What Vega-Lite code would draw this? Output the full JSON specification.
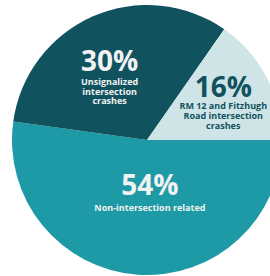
{
  "$schema": "https://vega.github.io/schema/vega-lite/v6.json",
  "width": 246,
  "height": 272,
  "autosize": "none",
  "padding": {"left": 24, "top": 4, "right": 0, "bottom": 0},
  "background": "white",
  "view": {"stroke": null},
  "data": {
    "values": [
      {"rank": 1, "category": "Non-intersection related", "share": 52.2, "pct": "54%", "desc": "Non-intersection related"},
      {"rank": 2, "category": "Unsignalized intersection crashes", "share": 32.5, "pct": "30%", "desc": ["Unsignalized", "intersection", "crashes"]},
      {"rank": 3, "category": "RM 12 and Fitzhugh Road intersection crashes", "share": 15.3, "pct": "16%", "desc": ["RM 12 and Fitzhugh", "Road intersection", "crashes"]}
    ]
  },
  "encoding": {
    "theta": {"field": "share", "type": "quantitative", "stack": true, "scale": {"range": [1.5708, 7.854]}},
    "order": {"field": "rank", "type": "quantitative"},
    "detail": {"field": "category", "type": "nominal"}
  },
  "layer": [
    {
      "mark": {"type": "arc", "outerRadius": 135, "stroke": null},
      "encoding": {
        "color": {
          "field": "category", "type": "nominal", "legend": null,
          "scale": {
            "domain": ["Non-intersection related", "Unsignalized intersection crashes", "RM 12 and Fitzhugh Road intersection crashes"],
            "range": ["#1e9aa6", "#10525e", "#cfe4e7"]
          }
        }
      }
    },
    {
      "mark": {"type": "text", "radius": 86, "dx": -3, "dy": 2, "font": "Open Sans", "fontWeight": "bold", "fontSize": 28, "baseline": "middle", "align": "center", "color": "#f2f2f2"},
      "encoding": {"text": {"condition": {"test": "datum.rank == 2", "field": "pct", "type": "nominal"}, "value": ""}}
    },
    {
      "mark": {"type": "text", "radius": 86, "dx": -3, "dy": 17, "font": "Open Sans", "fontWeight": "bold", "fontSize": 9, "lineHeight": 9.5, "baseline": "top", "align": "center", "color": "#f2f2f2"},
      "encoding": {"text": {"condition": {"test": "datum.rank == 2", "field": "desc", "type": "nominal"}, "value": ""}}
    },
    {
      "mark": {"type": "text", "radius": 86, "dx": 0, "dy": -11, "font": "Open Sans", "fontWeight": "bold", "fontSize": 28, "baseline": "middle", "align": "center", "color": "#10525e"},
      "encoding": {"text": {"condition": {"test": "datum.rank == 3", "field": "pct", "type": "nominal"}, "value": ""}}
    },
    {
      "mark": {"type": "text", "radius": 86, "dx": 0, "dy": 2, "font": "Open Sans", "fontWeight": "bold", "fontSize": 9, "lineHeight": 10, "baseline": "top", "align": "center", "color": "#10525e"},
      "encoding": {"text": {"condition": {"test": "datum.rank == 3", "field": "desc", "type": "nominal"}, "value": ""}}
    },
    {
      "mark": {"type": "text", "radius": 45, "dx": 6, "dy": 2, "font": "Open Sans", "fontWeight": "bold", "fontSize": 28, "baseline": "middle", "align": "center", "color": "#f2f2f2"},
      "encoding": {"text": {"condition": {"test": "datum.rank == 1", "field": "pct", "type": "nominal"}, "value": ""}}
    },
    {
      "mark": {"type": "text", "radius": 45, "dx": 6, "dy": 19, "font": "Open Sans", "fontWeight": "bold", "fontSize": 9, "baseline": "top", "align": "center", "color": "#f2f2f2"},
      "encoding": {"text": {"condition": {"test": "datum.rank == 1", "field": "desc", "type": "nominal"}, "value": ""}}
    }
  ]
}
